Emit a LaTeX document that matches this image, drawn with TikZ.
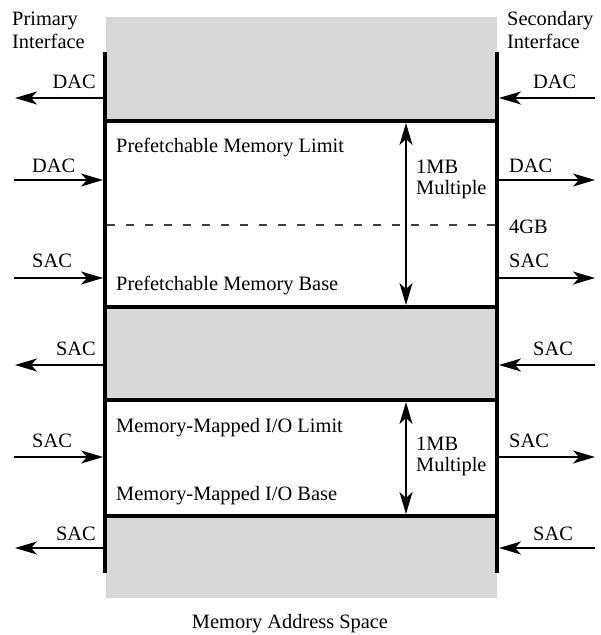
\documentclass[tikz,border=0pt]{standalone}
\usepackage{fontspec}
\setmainfont{Liberation Serif}
\usepackage{xcolor}
\definecolor{spacegray}{HTML}{D8D8D8}
\definecolor{dashgray}{HTML}{404040}
\usetikzlibrary{arrows.meta,positioning}
\tikzset{
    x=1pt,y=-1pt,
    bar/.style = {line width=4pt},
    sig/.style = {-{Stealth[length=22pt,width=13pt,inset=6pt]}, line width=1.4pt},
    span/.style = {{Stealth[length=22pt,width=13pt,inset=6pt]}-{Stealth[length=22pt,width=13pt,inset=6pt]}, line width=1.4pt},
    lbl/.style = {inner sep=0pt, font=\fontsize{20.4}{21}\selectfont},
    limit/.style = {dashgray, line width=1.3pt, dash pattern=on 8pt off 11pt}
}

\begin{document}
\begin{tikzpicture}
    \useasboundingbox (0,0) rectangle (601,635);

    % address space and the two windows
    \fill[spacegray] (106,17) rectangle (497,598);
    \fill[white] (105,121) rectangle (497,307);
    \fill[white] (105,400) rectangle (497,516);

    \coordinate (pTop) at (105,52);  \coordinate (pBot) at (105,573);
    \coordinate (sTop) at (497,52);  \coordinate (sBot) at (497,573);
    \foreach \n/\y in {a/121, b/307, c/400, d/516} {
        \coordinate (wl\n) at (105,\y);
        \coordinate (wr\n) at (497,\y);
        \draw[bar] (wl\n) -- (wr\n);
    }
    \draw[bar] (pTop) -- (pBot);
    \draw[bar] (sTop) -- (sBot);

    % 4GB boundary
    \coordinate (gL) at (107,225);
    \coordinate (gR) at (497,225);
    \draw[limit] (gL) -- (gR);
    \node[lbl, anchor=base west] (fourGB) at (509,233) {4GB};

    % window texts
    \node[lbl, anchor=base west] (pfLimit) at (116,152) {Prefetchable Memory Limit};
    \node[lbl, anchor=base west] (pfBase) at (116,290) {Prefetchable Memory Base};
    \node[lbl, anchor=base west] (ioLimit) at (116,432) {Memory-Mapped I/O Limit};
    \node[lbl, anchor=base west] (ioBase) at (116,500) {Memory-Mapped I/O Base};

    % 1MB granularity
    \coordinate (pfT) at (406,123);  \coordinate (pfB) at (406,305);
    \coordinate (ioT) at (406,402);  \coordinate (ioB) at (406,514);
    \draw[span] (pfT) -- (pfB);
    \draw[span] (ioT) -- (ioB);
    \node[lbl, anchor=base west] (pfMB) at (416,173) {1MB};
    \node[lbl, anchor=base west] (pfMul) at (416,194) {Multiple};
    \node[lbl, anchor=base west] (ioMB) at (416,450) {1MB};
    \node[lbl, anchor=base west] (ioMul) at (416,471) {Multiple};

    % cycles flowing to the primary side
    \foreach \n/\y/\b/\t in {a/98/88/DAC, d/365/355/SAC, f/548/540/SAC} {
        \coordinate (pIn\n) at (105,\y);   \coordinate (pOut\n) at (15,\y);
        \coordinate (sIn\n) at (595,\y);   \coordinate (sOut\n) at (499,\y);
        \draw[sig] (pIn\n) -- (pOut\n);
        \draw[sig] (sIn\n) -- (sOut\n);
        \node[lbl, anchor=base east] (pl\n) at (96,\b) {\t};
        \node[lbl, anchor=base west] (sl\n) at (533,\b) {\t};
    }
    % cycles flowing to the secondary side
    \foreach \n/\y/\b/\t in {b/180/172/DAC, c/278/267/SAC, e/457/447/SAC} {
        \coordinate (pIn\n) at (14,\y);    \coordinate (pOut\n) at (103,\y);
        \coordinate (sIn\n) at (497,\y);   \coordinate (sOut\n) at (595,\y);
        \draw[sig] (pIn\n) -- (pOut\n);
        \draw[sig] (sIn\n) -- (sOut\n);
        \node[lbl, anchor=base west] (pl\n) at (32,\b) {\t};
        \node[lbl, anchor=base west] (sl\n) at (509,\b) {\t};
    }

    % headings
    \node[lbl, anchor=base west] (prim) at (12,25) {Primary};
    \node[lbl, anchor=base west] (primIf) at (12,48) {Interface};
    \node[lbl, anchor=base west] (sec) at (507,25) {Secondary};
    \node[lbl, anchor=base west] (secIf) at (507,48) {Interface};
    \node[lbl, anchor=base] (space) at (290,628) {Memory Address Space};
\end{tikzpicture}
\end{document}
